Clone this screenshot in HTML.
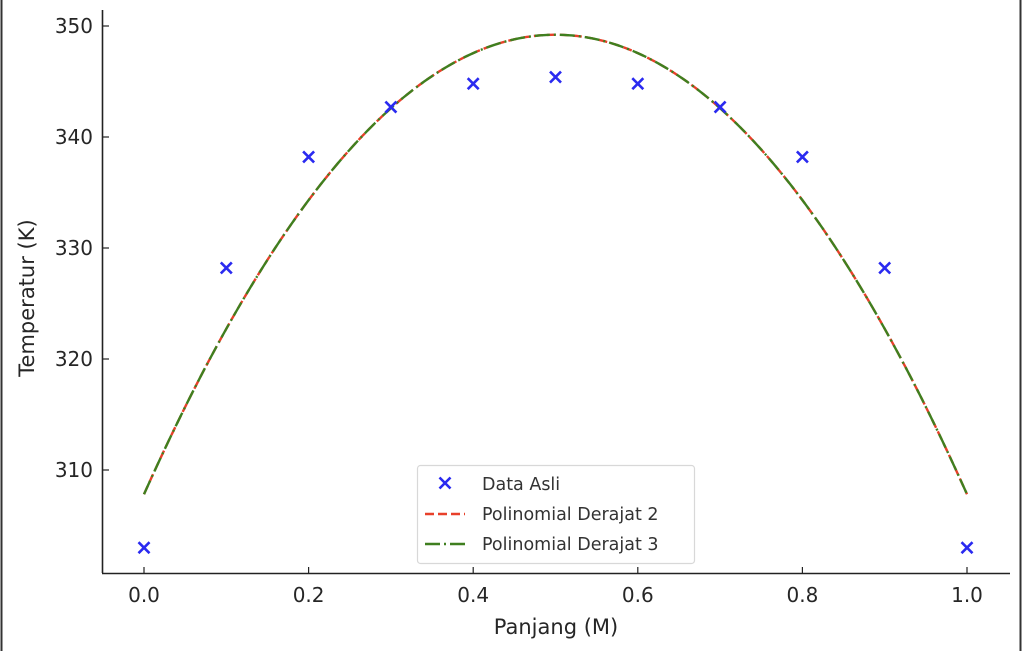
<!DOCTYPE html>
<html><head><meta charset="utf-8"><style>
html,body{margin:0;padding:0;background:#fff;}
svg{display:block;font-family:"DejaVu Sans","Liberation Sans",sans-serif;}
</style></head><body>
<svg id="chart" width="1024" height="651">
  <line x1="1.5" y1="0" x2="1.5" y2="651" stroke="#333" stroke-width="2"/>
  <line x1="1020.5" y1="0" x2="1020.5" y2="651" stroke="#333" stroke-width="2"/>
  <g id="plot"></g>
</svg>
<script>
const xs = [0.0,0.1,0.2,0.3,0.4,0.5,0.6,0.7,0.8,0.9,1.0];
const temps = [303.0,328.2,338.2,342.7,344.8,345.4,344.8,342.7,338.2,328.2,303.0];
const xTicks = [0.0,0.2,0.4,0.6,0.8,1.0];
const xTickLabels = ["0.0","0.2","0.4","0.6","0.8","1.0"];
const yTicks = [310,320,330,340,350];
const yTickLabels = ["310","320","330","340","350"];

const NS="http://www.w3.org/2000/svg";
const X = v => 144 + v*823;
const Y = v => 359 - (v-320)*11.1;
const g = document.getElementById('plot');
function mk(tag, attrs, parent){const e=document.createElementNS(NS,tag);for(const k in attrs)e.setAttribute(k,attrs[k]);(parent||g).appendChild(e);return e;}

function polyfit(x,y,d){
  const n=d+1, A=[];
  for(let i=0;i<n;i++){A.push(new Array(n+1).fill(0));}
  for(let k=0;k<x.length;k++){for(let i=0;i<n;i++){for(let j=0;j<n;j++)A[i][j]+=Math.pow(x[k],i+j);A[i][n]+=y[k]*Math.pow(x[k],i);}}
  for(let i=0;i<n;i++){let p=i;for(let r=i+1;r<n;r++)if(Math.abs(A[r][i])>Math.abs(A[p][i]))p=r;[A[i],A[p]]=[A[p],A[i]];
    for(let r=0;r<n;r++){if(r===i)continue;const f=A[r][i]/A[i][i];for(let c=i;c<=n;c++)A[r][c]-=f*A[i][c];}}
  return A.map((row,i)=>row[n]/row[i]);
}
function evalP(c,x){return c.reduce((s,a,i)=>s+a*Math.pow(x,i),0);}
function curve(c){let d="";for(let i=0;i<=200;i++){const x=i/200;d+=(i?"L":"M")+X(x).toFixed(2)+","+Y(evalP(c,x)).toFixed(2);}return d;}

let e;
e=mk('line',{x1:102.5,y1:10,x2:102.5,y2:573,stroke:'#222','stroke-width':1.6});

e=mk('line',{x1:102,y1:573.5,x2:1010,y2:573.5,stroke:'#222','stroke-width':1.6});


xTicks.forEach((t,i)=>{
  const tk=mk('line',{x1:X(t),y1:573,x2:X(t),y2:567,stroke:'#222','stroke-width':1.2});
  
  const tl=mk('text',{x:X(t),y:602,'text-anchor':'middle','font-size':20,fill:'#262626'});
  tl.textContent=xTickLabels[i];
  
});
yTicks.forEach((t,i)=>{
  const tk=mk('line',{x1:103,y1:Y(t),x2:109,y2:Y(t),stroke:'#222','stroke-width':1.2});
  
  const tl=mk('text',{x:93,y:Y(t)+7,'text-anchor':'end','font-size':20,fill:'#262626'});
  tl.textContent=yTickLabels[i];
  
});
e=mk('text',{x:556,y:634,'text-anchor':'middle','font-size':21,fill:'#262626'});e.textContent='Panjang (M)';

e=mk('text',{x:0,y:0,'text-anchor':'middle','font-size':21,fill:'#262626',transform:'translate(34,298) rotate(-90)'});e.textContent='Temperatur (K)';


const c2=polyfit(xs,temps,2), c3=polyfit(xs,temps,3);
e=mk('path',{d:curve(c2),fill:'none',stroke:'#e8402a','stroke-width':2.4,'stroke-dasharray':'9,4'});

e=mk('path',{d:curve(c3),fill:'none',stroke:'#3f7f1f','stroke-width':2.4,'stroke-dasharray':'15,4,2,4'});


xs.forEach((x,i)=>{
  const cx=X(x), cy=Y(temps[i]), s=5.5;
  const p=mk('path',{d:`M${cx-s},${cy-s}L${cx+s},${cy+s}M${cx-s},${cy+s}L${cx+s},${cy-s}`,stroke:'#2a2af0','stroke-width':2.6});
  
});

const lg=mk('g',{});

mk('rect',{x:417.5,y:465.5,width:277,height:98,rx:3,fill:'#fff',stroke:'#d8d8d8','stroke-width':1.2},lg);
const s=5.5,lx=445,ly1=483;
mk('path',{d:`M${lx-s},${ly1-s}L${lx+s},${ly1+s}M${lx-s},${ly1+s}L${lx+s},${ly1-s}`,stroke:'#2a2af0','stroke-width':2.6},lg);
mk('line',{x1:425,y1:514,x2:465,y2:514,stroke:'#e8402a','stroke-width':2.4,'stroke-dasharray':'9,4'},lg);
mk('line',{x1:425,y1:544,x2:465,y2:544,stroke:'#3f7f1f','stroke-width':2.4,'stroke-dasharray':'15,4,2,4'},lg);
const names=['Data Asli','Polinomial Derajat 2','Polinomial Derajat 3'];
names.forEach((n,i)=>{
  const t=mk('text',{x:482,y:490+i*30,'font-size':17.5,fill:'#333'},lg);t.textContent=n;
  
});
</script>
</body></html>
